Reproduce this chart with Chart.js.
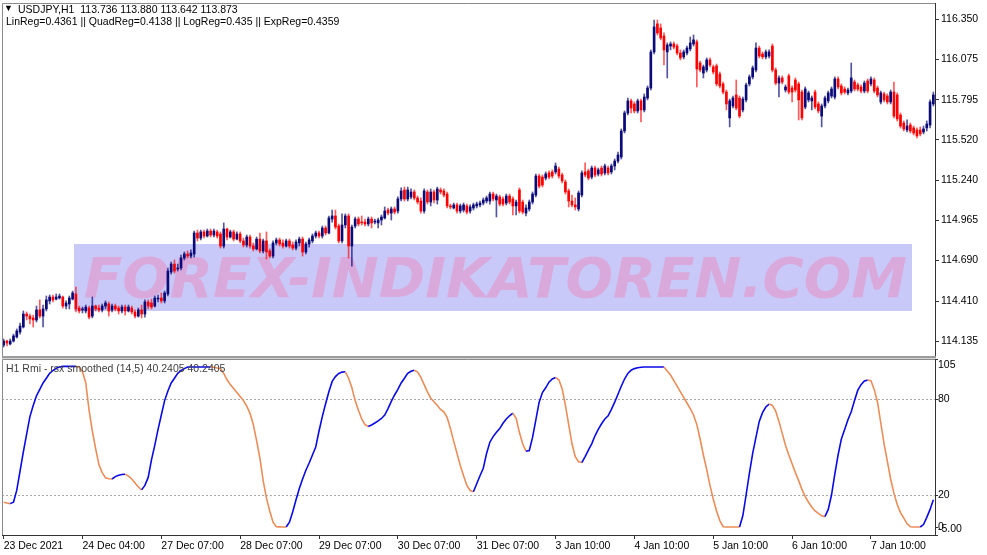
<!DOCTYPE html>
<html>
<head>
<meta charset="utf-8">
<script src="https://cdn.jsdelivr.net/npm/chart.js@4.4.1/dist/chart.umd.min.js"></script>
<style>
  body { margin: 0; background: #fff; font-family: "Liberation Sans", Arial, sans-serif; }
  #wrap { position: relative; width: 987px; height: 555px; overflow: hidden; }
  canvas { position: absolute; left: 0; top: 0; }
  .lbl { position: absolute; font-size: 10.5px; line-height: 12px; white-space: pre; color: #000; }
</style>
</head>
<body>
<div id="wrap">
  <canvas id="price" width="987" height="555"></canvas>
  <canvas id="rmi" width="987" height="555"></canvas>
  <div class="lbl" style="left:4px;top:2px;font-size:9px;">&#9660;</div>
  <div class="lbl" style="left:18px;top:3px;">USDJPY,H1  113.736 113.880 113.642 113.873</div>
  <div class="lbl" style="left:6px;top:15px;">LinReg=0.4361 || QuadReg=0.4138 || LogReg=0.435 || ExpReg=0.4359</div>
  <div class="lbl" style="left:6px;top:362px;color:#404040;">H1 Rmi - rsx smoothed (14,5) 40.2405 40.2405</div>
</div>
<script>
// x axis labels, one every 24 hourly bars
var tickLabels = ["23 Dec 2021", "24 Dec 04:00", "27 Dec 07:00", "28 Dec 07:00", "29 Dec 07:00", "30 Dec 07:00",
  "31 Dec 07:00", "3 Jan 10:00", "4 Jan 10:00", "5 Jan 10:00", "6 Jan 10:00", "7 Jan 10:00"];
var barsPerLabel = 24;
var priceTicks = [114.135, 114.410, 114.690, 114.965, 115.240, 115.520, 115.795, 116.075, 116.350];
var rmiTicks = [105, 80, 20, 0, -5];

// USDJPY H1 candles
var opens = [114.108,114.135,114.115,114.135,114.163,114.197,114.232,114.321,114.307,114.294,
  114.280,114.349,114.307,114.356,114.411,114.438,114.424,114.431,114.438,114.376,
  114.390,114.424,114.459,114.362,114.349,114.342,114.362,114.307,114.376,114.362,
  114.349,114.376,114.390,114.349,114.376,114.362,114.342,114.369,114.342,114.362,
  114.335,114.307,114.349,114.321,114.404,114.397,114.376,114.424,114.431,114.411,
  114.459,114.610,114.665,114.631,114.638,114.707,114.734,114.720,114.734,114.879,
  114.844,114.886,114.858,114.892,114.865,114.886,114.872,114.789,114.906,114.851,
  114.886,114.837,114.872,114.824,114.796,114.851,114.789,114.769,114.837,114.755,
  114.824,114.755,114.720,114.810,114.831,114.810,114.789,114.824,114.796,114.775,
  114.810,114.837,114.748,114.803,114.824,114.858,114.879,114.858,114.913,114.879,
  114.975,114.996,114.927,114.824,114.934,114.996,114.789,114.927,114.975,114.954,
  114.954,114.941,114.975,114.954,114.948,114.968,114.982,115.037,115.016,115.044,
  115.030,115.113,115.175,115.113,115.127,115.161,115.120,115.099,115.030,115.161,
  115.092,115.161,115.106,115.175,115.168,115.147,115.065,115.051,115.072,115.030,
  115.037,115.065,115.030,115.051,115.065,115.072,115.085,115.099,115.099,115.147,
  115.106,115.127,115.113,115.085,115.133,115.113,115.065,115.175,115.092,115.016,
  115.044,115.092,115.140,115.271,115.264,115.257,115.292,115.299,115.299,115.319,
  115.278,115.230,115.168,115.099,115.072,115.044,115.140,115.299,115.306,115.264,
  115.326,115.285,115.326,115.292,115.326,115.299,115.340,115.374,115.402,115.581,
  115.705,115.788,115.767,115.719,115.788,115.726,115.808,115.877,116.125,116.318,
  116.290,116.235,116.125,116.166,116.180,116.166,116.118,116.091,116.118,116.146,
  116.180,116.194,116.049,115.980,116.001,116.070,116.022,116.029,115.973,115.905,
  115.849,115.671,115.753,115.829,115.808,115.726,115.795,115.905,115.953,116.001,
  116.152,116.111,116.091,116.097,116.166,116.001,115.911,115.946,115.863,115.960,
  115.877,115.932,115.905,115.849,115.746,115.795,115.788,115.849,115.767,115.684,
  115.753,115.788,115.822,115.815,115.939,115.891,115.870,115.843,115.856,115.918,
  115.898,115.884,115.856,115.925,115.905,115.932,115.877,115.781,115.836,115.822,
  115.781,115.849,115.829,115.691,115.636,115.588,115.622,115.602,115.588,115.588,
  115.574,115.602,115.622,115.767];
var highs = [114.149,114.142,114.149,114.183,114.218,114.259,114.342,114.335,114.321,114.314,
  114.376,114.418,114.383,114.445,114.452,114.452,114.459,114.459,114.445,114.411,
  114.445,114.479,114.507,114.376,114.369,114.383,114.376,114.438,114.383,114.383,
  114.390,114.411,114.404,114.390,114.390,114.376,114.383,114.383,114.383,114.376,
  114.349,114.362,114.383,114.418,114.418,114.424,114.445,114.452,114.466,114.479,
  114.638,114.679,114.693,114.665,114.727,114.748,114.755,114.762,114.892,114.899,
  114.899,114.899,114.906,114.906,114.906,114.899,114.886,114.948,114.913,114.899,
  114.899,114.886,114.886,114.844,114.865,114.865,114.810,114.851,114.879,114.837,
  114.886,114.769,114.824,114.844,114.844,114.831,114.837,114.837,114.817,114.831,
  114.851,114.851,114.817,114.844,114.872,114.892,114.892,114.927,114.927,114.996,
  115.037,115.037,114.941,115.010,115.010,115.010,114.934,114.989,114.989,114.996,
  114.975,114.989,114.989,114.975,114.982,115.003,115.058,115.051,115.058,115.058,
  115.127,115.189,115.195,115.195,115.182,115.175,115.133,115.120,115.182,115.175,
  115.182,115.175,115.195,115.189,115.182,115.161,115.078,115.085,115.085,115.078,
  115.085,115.078,115.072,115.085,115.092,115.099,115.120,115.133,115.161,115.161,
  115.147,115.140,115.127,115.147,115.147,115.127,115.106,115.189,115.106,115.072,
  115.106,115.161,115.285,115.285,115.278,115.299,115.306,115.313,115.361,115.333,
  115.292,115.244,115.182,115.140,115.120,115.168,115.306,115.361,115.319,115.340,
  115.340,115.326,115.340,115.354,115.340,115.354,115.388,115.436,115.595,115.719,
  115.808,115.801,115.781,115.801,115.801,115.836,115.891,116.139,116.345,116.345,
  116.318,116.256,116.187,116.194,116.194,116.180,116.139,116.139,116.166,116.228,
  116.242,116.208,116.063,116.035,116.084,116.084,116.035,116.042,115.987,115.918,
  115.863,115.801,115.822,115.932,115.822,115.815,115.911,115.967,116.029,116.187,
  116.166,116.125,116.139,116.139,116.180,116.015,115.960,115.960,115.898,115.973,
  115.891,115.946,115.918,115.863,115.884,115.856,115.822,115.863,115.781,115.767,
  115.822,115.856,115.884,115.953,115.953,115.905,115.884,115.877,116.049,115.932,
  115.911,115.898,115.925,115.939,115.953,115.946,115.891,115.856,115.849,115.836,
  115.863,115.918,115.843,115.705,115.650,115.657,115.636,115.615,115.602,115.609,
  115.615,115.650,115.795,115.849];
var lows = [114.094,114.101,114.108,114.128,114.156,114.183,114.225,114.280,114.252,114.232,
  114.266,114.294,114.232,114.342,114.390,114.404,114.418,114.424,114.362,114.356,
  114.356,114.418,114.335,114.328,114.328,114.328,114.287,114.294,114.342,114.335,
  114.335,114.356,114.307,114.335,114.342,114.321,114.328,114.314,114.335,114.321,
  114.294,114.300,114.294,114.300,114.356,114.356,114.369,114.404,114.397,114.397,
  114.445,114.596,114.603,114.617,114.624,114.693,114.707,114.707,114.713,114.824,
  114.831,114.844,114.851,114.851,114.851,114.844,114.775,114.775,114.831,114.844,
  114.824,114.831,114.810,114.782,114.782,114.775,114.755,114.762,114.741,114.741,
  114.700,114.707,114.707,114.796,114.789,114.775,114.782,114.775,114.762,114.762,
  114.789,114.720,114.734,114.782,114.810,114.844,114.844,114.844,114.865,114.872,
  114.954,114.906,114.810,114.810,114.913,114.707,114.651,114.913,114.927,114.934,
  114.927,114.927,114.913,114.941,114.913,114.934,114.975,115.003,114.968,115.010,
  115.016,115.099,115.099,115.099,115.113,115.106,115.078,115.016,115.016,115.078,
  115.065,115.085,115.078,115.147,115.127,115.051,115.044,115.044,115.016,115.016,
  115.023,115.010,115.016,115.037,115.051,115.058,115.072,115.085,115.078,115.099,
  114.989,115.065,115.065,115.072,115.078,115.003,115.003,115.016,115.010,114.996,
  115.030,115.078,115.127,115.189,115.195,115.244,115.251,115.257,115.285,115.257,
  115.223,115.147,115.058,115.058,115.037,115.030,115.127,115.264,115.244,115.251,
  115.264,115.271,115.271,115.278,115.278,115.285,115.313,115.361,115.388,115.567,
  115.691,115.705,115.705,115.705,115.643,115.712,115.795,115.863,116.111,116.242,
  116.208,116.035,115.946,116.139,116.146,116.104,116.070,116.077,116.104,116.132,
  116.166,115.884,115.987,115.946,115.987,116.022,115.973,115.891,115.877,115.836,
  115.726,115.609,115.739,115.726,115.671,115.712,115.781,115.891,115.939,115.987,
  116.084,116.077,116.077,116.084,115.987,115.898,115.815,115.905,115.849,115.836,
  115.781,115.849,115.657,115.657,115.733,115.781,115.726,115.733,115.705,115.609,
  115.739,115.774,115.808,115.801,115.870,115.829,115.836,115.829,115.843,115.856,
  115.856,115.843,115.843,115.843,115.891,115.843,115.815,115.767,115.781,115.767,
  115.767,115.671,115.650,115.602,115.581,115.574,115.567,115.554,115.533,115.547,
  115.561,115.581,115.602,115.753];
var closes = [114.135,114.121,114.135,114.170,114.204,114.238,114.321,114.307,114.287,114.280,
  114.349,114.307,114.356,114.418,114.438,114.418,114.438,114.445,114.376,114.397,
  114.431,114.466,114.356,114.342,114.349,114.369,114.300,114.376,114.356,114.349,
  114.376,114.397,114.342,114.376,114.356,114.342,114.369,114.342,114.369,114.335,
  114.307,114.349,114.321,114.404,114.376,114.369,114.431,114.431,114.411,114.466,
  114.617,114.665,114.617,114.638,114.707,114.734,114.720,114.741,114.879,114.844,
  114.886,114.858,114.892,114.865,114.892,114.858,114.789,114.906,114.851,114.886,
  114.837,114.872,114.824,114.796,114.851,114.789,114.769,114.837,114.755,114.824,
  114.748,114.720,114.810,114.831,114.803,114.789,114.824,114.789,114.775,114.817,
  114.837,114.748,114.803,114.831,114.858,114.879,114.858,114.913,114.879,114.982,
  114.996,114.920,114.824,114.934,114.996,114.789,114.920,114.975,114.941,114.948,
  114.941,114.975,114.948,114.954,114.968,114.989,115.030,115.016,115.044,115.023,
  115.113,115.168,115.113,115.175,115.161,115.120,115.092,115.030,115.168,115.092,
  115.161,115.106,115.182,115.161,115.140,115.065,115.058,115.072,115.030,115.065,
  115.072,115.023,115.058,115.072,115.078,115.085,115.106,115.120,115.147,115.113,
  115.133,115.078,115.078,115.133,115.092,115.065,115.092,115.030,115.023,115.051,
  115.092,115.147,115.271,115.202,115.209,115.285,115.264,115.271,115.340,115.271,
  115.237,115.161,115.099,115.072,115.058,115.154,115.292,115.278,115.257,115.326,
  115.278,115.313,115.285,115.340,115.292,115.340,115.374,115.416,115.581,115.705,
  115.788,115.739,115.719,115.788,115.726,115.815,115.877,116.125,116.297,116.256,
  116.221,116.139,116.173,116.180,116.159,116.118,116.084,116.125,116.152,116.187,
  116.208,116.008,116.001,116.022,116.070,116.035,115.987,115.905,115.891,115.849,
  115.767,115.788,115.808,115.739,115.684,115.801,115.898,115.953,116.015,116.152,
  116.097,116.091,116.125,116.125,116.001,115.911,115.946,115.918,115.884,115.849,
  115.849,115.863,115.795,115.671,115.870,115.843,115.808,115.746,115.719,115.753,
  115.808,115.843,115.870,115.939,115.884,115.843,115.849,115.863,115.946,115.870,
  115.870,115.856,115.911,115.856,115.939,115.856,115.829,115.843,115.795,115.781,
  115.849,115.684,115.664,115.615,115.595,115.615,115.581,115.567,115.547,115.561,
  115.595,115.629,115.781,115.829];

// Rmi - rsx smoothed (14,5)
var rmiValues = [15.5,15,14.6,15.5,23,35,47,58,69,76,
  82,86,90,93,96,97.8,99.2,100,100.4,100.4,
  100.4,100.4,100.4,100,97,90,73,60,49,39,
  34,30.8,30.2,30,31.5,32.4,32.8,33,31.8,30,
  27.5,25,23.2,26,31,42,51,61,70,79,
  85,90,93,96,97.8,99,100,100,100,100,
  100,100,100,100,99.8,99.4,99,96,92,89,
  86.5,84,81.5,79,75.5,71,64,54,43,29,
  18,10,3,0.2,0.1,0,0,3,9.5,17,
  24,30,35.5,40,45,50,60,69,77,84.5,
  91,94,96,96.8,97,93,87,79,73,67.5,
  64,62.8,63.8,65,66.3,67.8,70,74,78.5,82.5,
  86,90,93,96,97.3,98,96.8,93.5,89,84.5,
  80.5,78.3,76,73.5,72,68.5,61.5,53.5,46,38.5,
  32,26,22.8,22,27,32,36.7,46,53,56.5,
  59.2,61.5,64.8,67.5,69.5,71.2,68,59,52,47.3,
  47.8,56,67,78,84,87,90.5,92.5,93.4,92,
  86.5,76,64,52,44,40.8,40.3,44,48,52,
  57,61,64.5,67.5,69.5,73.5,78,83,88,92.5,
  96,98,99,99.5,99.8,100,100,100,100,100,
  100,100,97.5,95,91.5,88,84.5,81,77.5,74,
  70,64,55,45,36,26,17.5,10,4,0.2,
  0,0,0,0,0,7,20,33.5,46,56,
  66,71.5,75,76.8,76,72.5,66,58.5,51,45,
  39.5,34,29,23.5,19,15.5,12.5,10,8.5,7,
  6.5,11,20,33,45,55,61,67,72,79,
  85.5,89,91.3,91.8,91.5,86,78,65,52,41,
  30,21,14,9,5.5,2,0.2,0,0,0,
  1.5,6,11,17];

var bars = closes.map(function (c, i) { return i; });

var upColor = "#0a0a78";
var downColor = "#ff0000";
var rmiUp = "#0a0ae6";
var rmiDown = "#ea8d58";
var axisFont = { family: "Liberation Sans", size: 10.5 };

Chart.defaults.font.family = "Liberation Sans";
Chart.defaults.color = "#000";

function isUp(i) {
  return closes[i] >= opens[i];
}

// flat stretches keep the colour of the last move
function rmiColor(i) {
  var j = i;
  while (j > 0 && rmiValues[j + 1] === rmiValues[j]) j--;
  return rmiValues[j + 1] >= rmiValues[j] ? rmiUp : rmiDown;
}

var framePlugin = {
  id: "frame",
  beforeDatasetsDraw: function (chart, args, opts) {
    if (!opts.watermark) return;
    var ctx = chart.ctx;
    var text = "FOREX-INDIKATOREN.COM";
    ctx.save();
    ctx.fillStyle = "#c9c9f9";
    ctx.fillRect(74, 244, 838, 67);
    ctx.font = 'italic bold 56px "DejaVu Sans"';
    var w = ctx.measureText(text).width;
    ctx.translate(84, 297);
    ctx.scale(823 / w, 1);
    ctx.fillStyle = "#d9a9db";
    ctx.fillText(text, 0, 0);
    ctx.restore();
  },
  afterDraw: function (chart, args, opts) {
    var ctx = chart.ctx;
    var a = chart.chartArea;
    ctx.save();
    ctx.strokeStyle = "#8a8a8a";
    ctx.lineWidth = 1;
    ctx.beginPath();
    ctx.moveTo(a.left + 0.5, a.bottom);
    ctx.lineTo(a.left + 0.5, a.top + 0.5);
    ctx.lineTo(a.right, a.top + 0.5);
    ctx.stroke();
    if (opts.watermark) {
      ctx.fillStyle = "#9c9c9c";
      ctx.fillRect(a.left, a.bottom, a.right - a.left + 1, 2);
      ctx.fillStyle = "#d4d4d4";
      ctx.fillRect(a.left, a.bottom + 2, a.right - a.left + 1, 1);
    }
    ctx.restore();
  }
};

new Chart(document.getElementById("price"), {
  type: "bar",
  data: {
    labels: bars,
    datasets: [
      {
        data: opens.map(function (o, i) { return [o, closes[i]]; }),
        backgroundColor: function (c) { return isUp(c.dataIndex) ? upColor : downColor; },
        barThickness: 2,
        minBarLength: 1,
        grouped: false,
        borderWidth: 0
      },
      {
        data: lows.map(function (l, i) { return [l, highs[i]]; }),
        backgroundColor: function (c) { return isUp(c.dataIndex) ? "rgba(10,10,120,0.7)" : "rgba(255,0,0,0.65)"; },
        barThickness: 1,
        grouped: false,
        borderWidth: 0
      }
    ]
  },
  options: {
    responsive: false,
    animation: false,
    devicePixelRatio: 1,
    layout: { padding: { left: 2, top: 3, right: 0, bottom: 199 } },
    plugins: { legend: { display: false }, tooltip: { enabled: false }, frame: { watermark: true } },
    scales: {
      x: { display: false, offset: true },
      y: {
        position: "right",
        min: 114.032,
        max: 116.462,
        afterBuildTicks: function (s) { s.ticks = priceTicks.map(function (v) { return { value: v }; }); },
        afterFit: function (s) { s.width = 52; s.paddingTop = 0; s.paddingBottom = 0; },
        grid: { drawOnChartArea: false, tickLength: 4, tickColor: "#333" },
        border: { color: "#333" },
        ticks: { padding: 2, color: "#000", font: axisFont, callback: function (v) { return v.toFixed(3); } }
      }
    }
  },
  plugins: [framePlugin]
});

new Chart(document.getElementById("rmi"), {
  type: "line",
  data: {
    labels: bars,
    datasets: [{
      data: rmiValues,
      borderColor: rmiUp,
      borderWidth: 1.6,
      pointRadius: 0,
      segment: { borderColor: function (c) { return rmiColor(c.p0DataIndex); } }
    }]
  },
  options: {
    responsive: false,
    animation: false,
    devicePixelRatio: 1,
    layout: { padding: { left: 2, top: 359, right: 0, bottom: 0 } },
    plugins: { legend: { display: false }, tooltip: { enabled: false }, frame: { watermark: false } },
    scales: {
      x: {
        offset: true,
        afterBuildTicks: function (s) { s.ticks = s.ticks.filter(function (t) { return t.value % barsPerLabel === 0; }); },
        afterFit: function (s) { s.height = 20; s.paddingLeft = 0; s.paddingRight = 0; },
        grid: { offset: false, drawOnChartArea: false, tickLength: 4, tickColor: "#333" },
        border: { color: "#333" },
        ticks: {
          autoSkip: false, maxRotation: 0, align: "start", padding: 1, color: "#000", font: axisFont,
          callback: function (v) { return tickLabels[v / barsPerLabel]; }
        }
      },
      y: {
        position: "right",
        min: -5,
        max: 105,
        afterBuildTicks: function (s) { s.ticks = rmiTicks.map(function (v) { return { value: v }; }); },
        afterFit: function (s) { s.width = 52; s.paddingTop = 0; s.paddingBottom = 0; },
        grid: {
          color: function (c) { return c.tick && (c.tick.value === 80 || c.tick.value === 20) ? "#a8a8a8" : "rgba(0,0,0,0)"; },
          tickColor: "#333",
          tickBorderDash: [],
          tickLength: 3
        },
        border: { color: "#333", dash: [2, 2] },
        ticks: {
          padding: 0, color: "#000", font: axisFont,
          callback: function (v) {
            if (v === 105) return ["", "105"];
            if (v === -5) return ["-5.00", ""];
            return String(v);
          }
        }
      }
    }
  },
  plugins: [framePlugin]
});
</script>
</body>
</html>
